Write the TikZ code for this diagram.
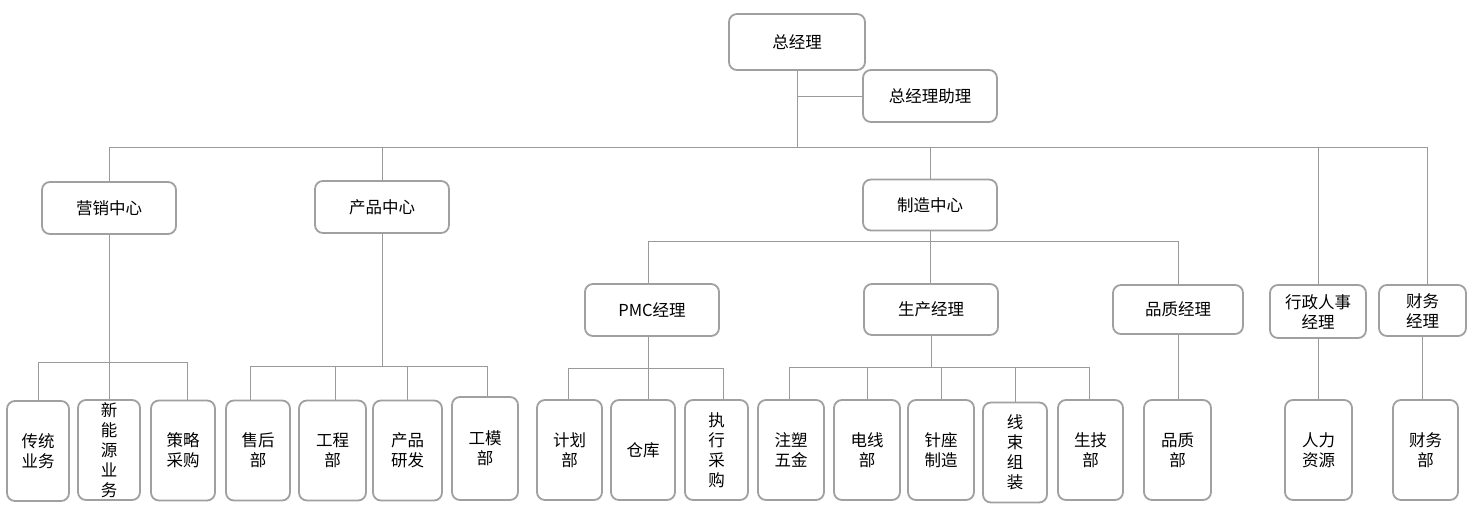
\documentclass[tikz,border=0pt]{standalone}
\usepackage{fontspec}
\setmainfont{Noto Sans CJK SC}
\definecolor{boxgray}{HTML}{A0A0A0}
\definecolor{linegray}{HTML}{9A9A9A}
\begin{document}
\begin{tikzpicture}[x=1pt,y=-1pt,
  box/.style={draw=boxgray,line width=1.8pt,rounded corners=8pt,inner sep=0pt,
    align=center,font=\fontsize{16.5}{20}\selectfont,text=black},
  conn/.style={draw=linegray,line width=1pt}]
\useasboundingbox[fill=white] (0,0) rectangle (1476,509);
% top
\node[box,minimum width=136pt,minimum height=56pt] (gm) at (797,42) {总经理};
\node[box,minimum width=134pt,minimum height=52pt] (asst) at (930,96) {总经理助理};
% level 2
\node[box,minimum width=134pt,minimum height=52pt] (mkt) at (109,208) {营销中心};
\node[box,minimum width=134pt,minimum height=52pt] (prod) at (382,207) {产品中心};
\node[box,minimum width=134pt,minimum height=51pt] (mfg) at (930,205) {制造中心};
\node[box,minimum width=96pt,minimum height=53pt] (hr) at (1318,311.5) {行政人事\\经理};
\node[box,minimum width=87pt,minimum height=51pt] (fin) at (1422.5,310.5) {财务\\经理};
% level 3
\node[box,minimum width=134pt,minimum height=52pt] (pmc) at (652,310) {PMC经理};
\node[box,minimum width=134pt,minimum height=51pt] (sc) at (931,309.5) {生产经理};
\node[box,minimum width=130pt,minimum height=49pt] (qm) at (1178,309.5) {品质经理};
% leaves
\tikzset{leaf/.style={box,minimum height=100pt}}
\node[leaf,minimum width=62pt] (a1) at (38,451) {传统\\业务};
\node[leaf,minimum width=62pt] (a2) at (109,450) {新\\能\\源\\业\\务};
\node[leaf,minimum width=64pt] (a3) at (183,450.5) {策略\\采购};
\node[leaf,minimum width=64pt] (b1) at (258,450.5) {售后\\部};
\node[leaf,minimum width=67pt] (b2) at (332.5,450.5) {工程\\部};
\node[leaf,minimum width=69pt] (b3) at (407.5,450.5) {产品\\研发};
\node[leaf,minimum width=66pt,minimum height=103pt] (b4) at (485,448.5) {工模\\部};
\node[leaf,minimum width=65pt] (c1) at (569.5,450) {计划\\部};
\node[leaf,minimum width=64pt] (c2) at (643,450) {仓库};
\node[leaf,minimum width=63pt] (c3) at (716.5,450) {执\\行\\采\\购};
\node[leaf,minimum width=66pt] (d1) at (791,450) {注塑\\五金};
\node[leaf,minimum width=66pt] (d2) at (867,450) {电线\\部};
\node[leaf,minimum width=66pt] (d3) at (941,450) {针座\\制造};
\node[leaf,minimum width=64pt] (d4) at (1015,452.5) {线\\束\\组\\装};
\node[leaf,minimum width=65pt] (d5) at (1090.5,450) {生技\\部};
\node[leaf,minimum width=67pt] (e1) at (1177.5,450) {品质\\部};
\node[leaf,minimum width=67pt] (f1) at (1318.5,450) {人力\\资源};
\node[leaf,minimum width=65pt] (g1) at (1425.5,450) {财务\\部};
% bus coordinates
\coordinate (bus) at (0,147);
\coordinate (mb) at (0,362);
\coordinate (pb) at (0,366);
\coordinate (fb) at (0,241);
\coordinate (cb) at (0,368);
\coordinate (sb) at (0,367);
% top connectors
\draw[conn] (gm.south) -- (gm.south |- bus);
\draw[conn] (gm.south |- asst.west) -- (asst.west);
\draw[conn] (mkt.north) |- ([xshift=4.5pt]fin.north |- bus) -- ([xshift=4.5pt]fin.north);
\draw[conn] (prod.north) -- (prod.north |- bus);
\draw[conn] (mfg.north) -- (mfg.north |- bus);
\draw[conn] (hr.north) -- (hr.north |- bus);
% marketing
\draw[conn] (mkt.south) -- (mkt.south |- mb);
\draw[conn] (a1.north) |- ([xshift=4pt]a3.north |- mb) -- ([xshift=4pt]a3.north);
\draw[conn] (a2.north) -- (a2.north |- mb);
% product
\draw[conn] (prod.south) -- (prod.south |- pb);
\draw[conn] ([xshift=-8pt]b1.north) |- ([xshift=2pt]b4.north |- pb) -- ([xshift=2pt]b4.north);
\draw[conn] ([xshift=2.5pt]b2.north) -- ([xshift=2.5pt]b2.north |- pb);
\draw[conn] (b3.north) -- (b3.north |- pb);
% manufacturing
\draw[conn] (mfg.south) -- (mfg.south |- sc.north);
\draw[conn] ([xshift=-4pt]pmc.north) |- (qm.north |- fb) -- (qm.north);
% PMC
\draw[conn] ([xshift=-4pt]pmc.south) -- ([xshift=-4pt]pmc.south |- cb);
\draw[conn] ([xshift=-1.5pt]c1.north) |- ([xshift=6.5pt]c3.north |- cb) -- ([xshift=6.5pt]c3.north);
\draw[conn] ([xshift=5pt]c2.north) -- ([xshift=5pt]c2.north |- cb);
% production
\draw[conn] (sc.south) -- (sc.south |- sb);
\draw[conn] ([xshift=-2pt]d1.north) |- ([xshift=-1.5pt]d5.north |- sb) -- ([xshift=-1.5pt]d5.north);
\draw[conn] (d2.north) -- (d2.north |- sb);
\draw[conn] (d3.north) -- (d3.north |- sb);
\draw[conn] (d4.north) -- (d4.north |- sb);
% singles
\draw[conn] (qm.south) -- (qm.south |- e1.north);
\draw[conn] (hr.south) -- (hr.south |- f1.north);
\draw[conn] (fin.south) -- (fin.south |- g1.north);
\end{tikzpicture}
\end{document}
